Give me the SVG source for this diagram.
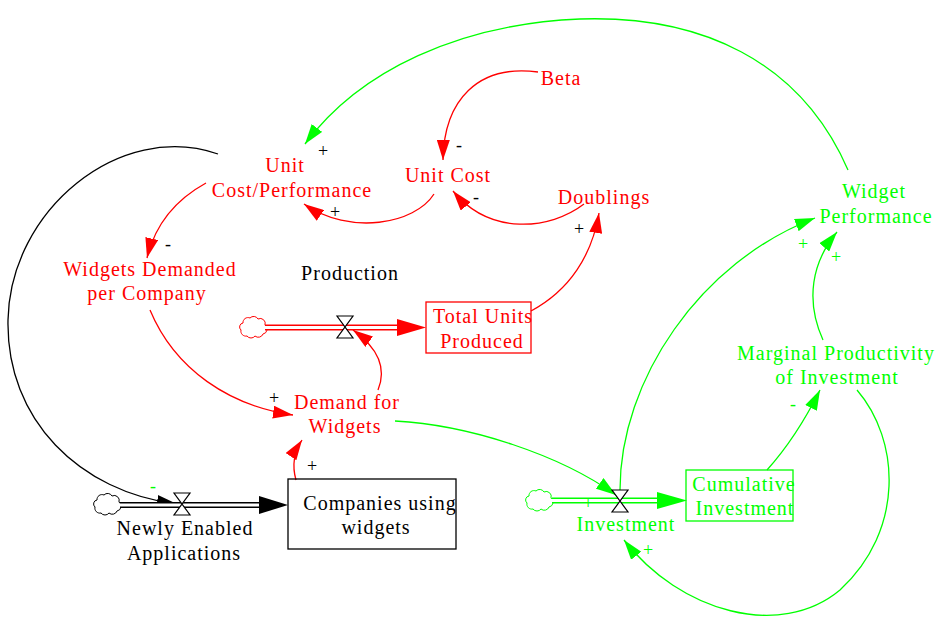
<svg xmlns="http://www.w3.org/2000/svg" width="935" height="621" viewBox="0 0 935 621" font-family="'Liberation Serif', 'DejaVu Serif', serif">
<style>
text{font-family:'Liberation Serif','DejaVu Serif',serif;font-size:20px;text-anchor:middle;letter-spacing:1px}
.r{fill:#ff0000}.g{fill:#00ff00}.k{fill:#000}
.sg{font-size:18px;dominant-baseline:central;letter-spacing:0}
.cr{fill:none;stroke:#ff0000;stroke-width:1.3}
.cg{fill:none;stroke:#00ff00;stroke-width:1.3}
.ck{fill:none;stroke:#000;stroke-width:1.3}
</style>
<defs>
<marker id="ar" viewBox="0 0 20 13" refX="20" refY="6.5" markerWidth="20" markerHeight="13" markerUnits="userSpaceOnUse" orient="auto"><path d="M0 0L20 6.5L0 13Z" fill="#ff0000"/></marker>
<marker id="ag" viewBox="0 0 20 13" refX="20" refY="6.5" markerWidth="20" markerHeight="13" markerUnits="userSpaceOnUse" orient="auto"><path d="M0 0L20 6.5L0 13Z" fill="#00ff00"/></marker>
<marker id="ak" viewBox="0 0 20 13" refX="20" refY="6.5" markerWidth="20" markerHeight="13" markerUnits="userSpaceOnUse" orient="auto"><path d="M0 0L20 6.5L0 13Z" fill="#000"/></marker>
<path id="cloud" d="M-10 -4 A5 5 0 0 1 -3 -9 A5 5 0 0 1 5 -8 A5 5 0 0 1 12 -2 A5 5 0 0 1 10 7 A5 5 0 0 1 2 9 A5 5 0 0 1 -6 9 A5 5 0 0 1 -12 3 A4 4 0 0 1 -10 -4Z" fill="#fff" stroke-width="1"/>
<polygon id="valve" points="-8,-11 8,-11 -8,11 8,11" fill="#fff" stroke="#000" stroke-width="1.2"/>
</defs>
<rect width="935" height="621" fill="#fff"/>

<g id="connectors">
<path class="cr" d="M538 72C478 64 444 100 443 160" marker-end="url(#ar)"/>
<path class="cr" d="M434 194C415 224 350 236 304 204" marker-end="url(#ar)"/>
<path class="cr" d="M584 204C550 230 490 236 453 191" marker-end="url(#ar)"/>
<path class="cr" d="M531 311C570 290 592 255 599 213" marker-end="url(#ar)"/>
<path class="cg" d="M848 170C800 60 700 15 580 19C460 24 360 70 305 144" marker-end="url(#ag)"/>
<path class="cr" d="M206 183C175 200 155 225 147 258" marker-end="url(#ar)"/>
<path class="ck" d="M218 154C120 120 10 210 8 320C6 420 80 492 177 504" marker-end="url(#ak)"/>
<path class="cr" d="M150 310C175 370 230 406 293 415" marker-end="url(#ar)"/>
<path class="cr" d="M378 390C387 368 378 348 353 330" marker-end="url(#ar)"/>
<path class="cr" d="M296 480C292 466 294 452 302 440" marker-end="url(#ar)"/>
<path class="cg" d="M395 421C470 425 560 455 616 495" marker-end="url(#ag)"/>
<path class="cg" d="M620 490C620 380 700 262 815 218" marker-end="url(#ag)"/>
<path class="cg" d="M823 340C805 300 812 262 837 232" marker-end="url(#ag)"/>
<path class="cg" d="M767 470C785 450 805 420 820 390" marker-end="url(#ag)"/>
<path class="cg" d="M857 390C900 440 905 530 840 590C780 640 680 612 624 540" marker-end="url(#ag)"/>
</g>

<g id="flow-production">
<use href="#cloud" x="253" y="327" stroke="#ff0000"/>
<line x1="265" y1="327.5" x2="400" y2="327.5" stroke="#ff0000" stroke-width="6"/>
<line x1="264" y1="327.5" x2="401" y2="327.5" stroke="#fff" stroke-width="3"/>
<path d="M397 319L426 327.5L397 336Z" fill="#ff0000"/>
<use href="#valve" x="345" y="327"/>
<text class="k" x="350" y="280">Production</text>
</g>

<g id="flow-newly">
<use href="#cloud" x="107" y="504" stroke="#000"/>
<line x1="120" y1="505" x2="262" y2="505" stroke="#000" stroke-width="6"/>
<line x1="119" y1="505" x2="263" y2="505" stroke="#fff" stroke-width="3"/>
<path d="M259 496L288 505L259 514Z" fill="#000"/>
<use href="#valve" x="182" y="504"/>
<text class="k" x="185" y="535">Newly Enabled</text>
<text class="k" x="184" y="560">Applications</text>
</g>

<g id="flow-investment">
<use href="#cloud" x="539" y="500" stroke="#00ff00"/>
<line x1="552" y1="500.5" x2="660" y2="500.5" stroke="#00ff00" stroke-width="6"/>
<line x1="551" y1="500.5" x2="661" y2="500.5" stroke="#fff" stroke-width="3"/>
<path d="M657 492L687 500.5L657 509Z" fill="#00ff00"/>
<use href="#valve" x="620" y="501"/>
<text class="g" x="626" y="531">Investment</text>
</g>

<g id="beta"><text class="r" x="561" y="85">Beta</text></g>
<g id="unit-cost"><text class="r" x="448" y="182">Unit Cost</text></g>
<g id="doublings"><text class="r" x="604" y="204">Doublings</text></g>
<g id="unit-cost-performance">
<text class="r" x="285" y="172">Unit</text>
<text class="r" x="292" y="197">Cost/Performance</text>
</g>
<g id="widget-performance">
<text class="g" x="874" y="198">Widget</text>
<text class="g" x="876" y="223">Performance</text>
</g>
<g id="widgets-demanded">
<text class="r" x="150" y="276">Widgets Demanded</text>
<text class="r" x="147" y="300">per Company</text>
</g>
<g id="total-units-produced">
<rect x="426" y="302" width="105" height="51" fill="none" stroke="#ff0000" stroke-width="1.3"/>
<text class="r" x="483" y="323">Total Units</text>
<text class="r" x="482" y="348">Produced</text>
</g>
<g id="demand-for-widgets">
<text class="r" x="347" y="409">Demand for</text>
<text class="r" x="345" y="433">Widgets</text>
</g>
<g id="marginal-productivity">
<text class="g" x="836" y="360" letter-spacing="0.4">Marginal Productivity</text>
<text class="g" x="837" y="384">of Investment</text>
</g>
<g id="companies-using-widgets">
<rect x="288" y="479" width="168" height="70" fill="none" stroke="#000" stroke-width="1.3"/>
<text class="k" x="380" y="510">Companies using</text>
<text class="k" x="376" y="534">widgets</text>
</g>
<g id="cumulative-investment">
<rect x="686" y="470" width="107" height="51" fill="none" stroke="#00ff00" stroke-width="1.3"/>
<text class="g" x="744" y="491">Cumulative</text>
<text class="g" x="745" y="515">Investment</text>
</g>

<g id="signs">
<text class="k sg" x="459" y="145">-</text>
<text class="k sg" x="476" y="197">-</text>
<text class="k sg" x="335" y="212" font-size="16">+</text>
<text class="k sg" x="323" y="151">+</text>
<text class="k sg" x="579" y="229">+</text>
<text class="k sg" x="168" y="244">-</text>
<text class="k sg" x="274" y="398">+</text>
<text class="k sg" x="312" y="466">+</text>
<text class="g sg" x="153" y="486">-</text>
<text class="g sg" x="588" y="503">+</text>
<text class="g sg" x="648" y="550">+</text>
<text class="g sg" x="793" y="404">-</text>
<text class="g sg" x="803" y="244">+</text>
<text class="g sg" x="836" y="257">+</text>
</g>
</svg>
